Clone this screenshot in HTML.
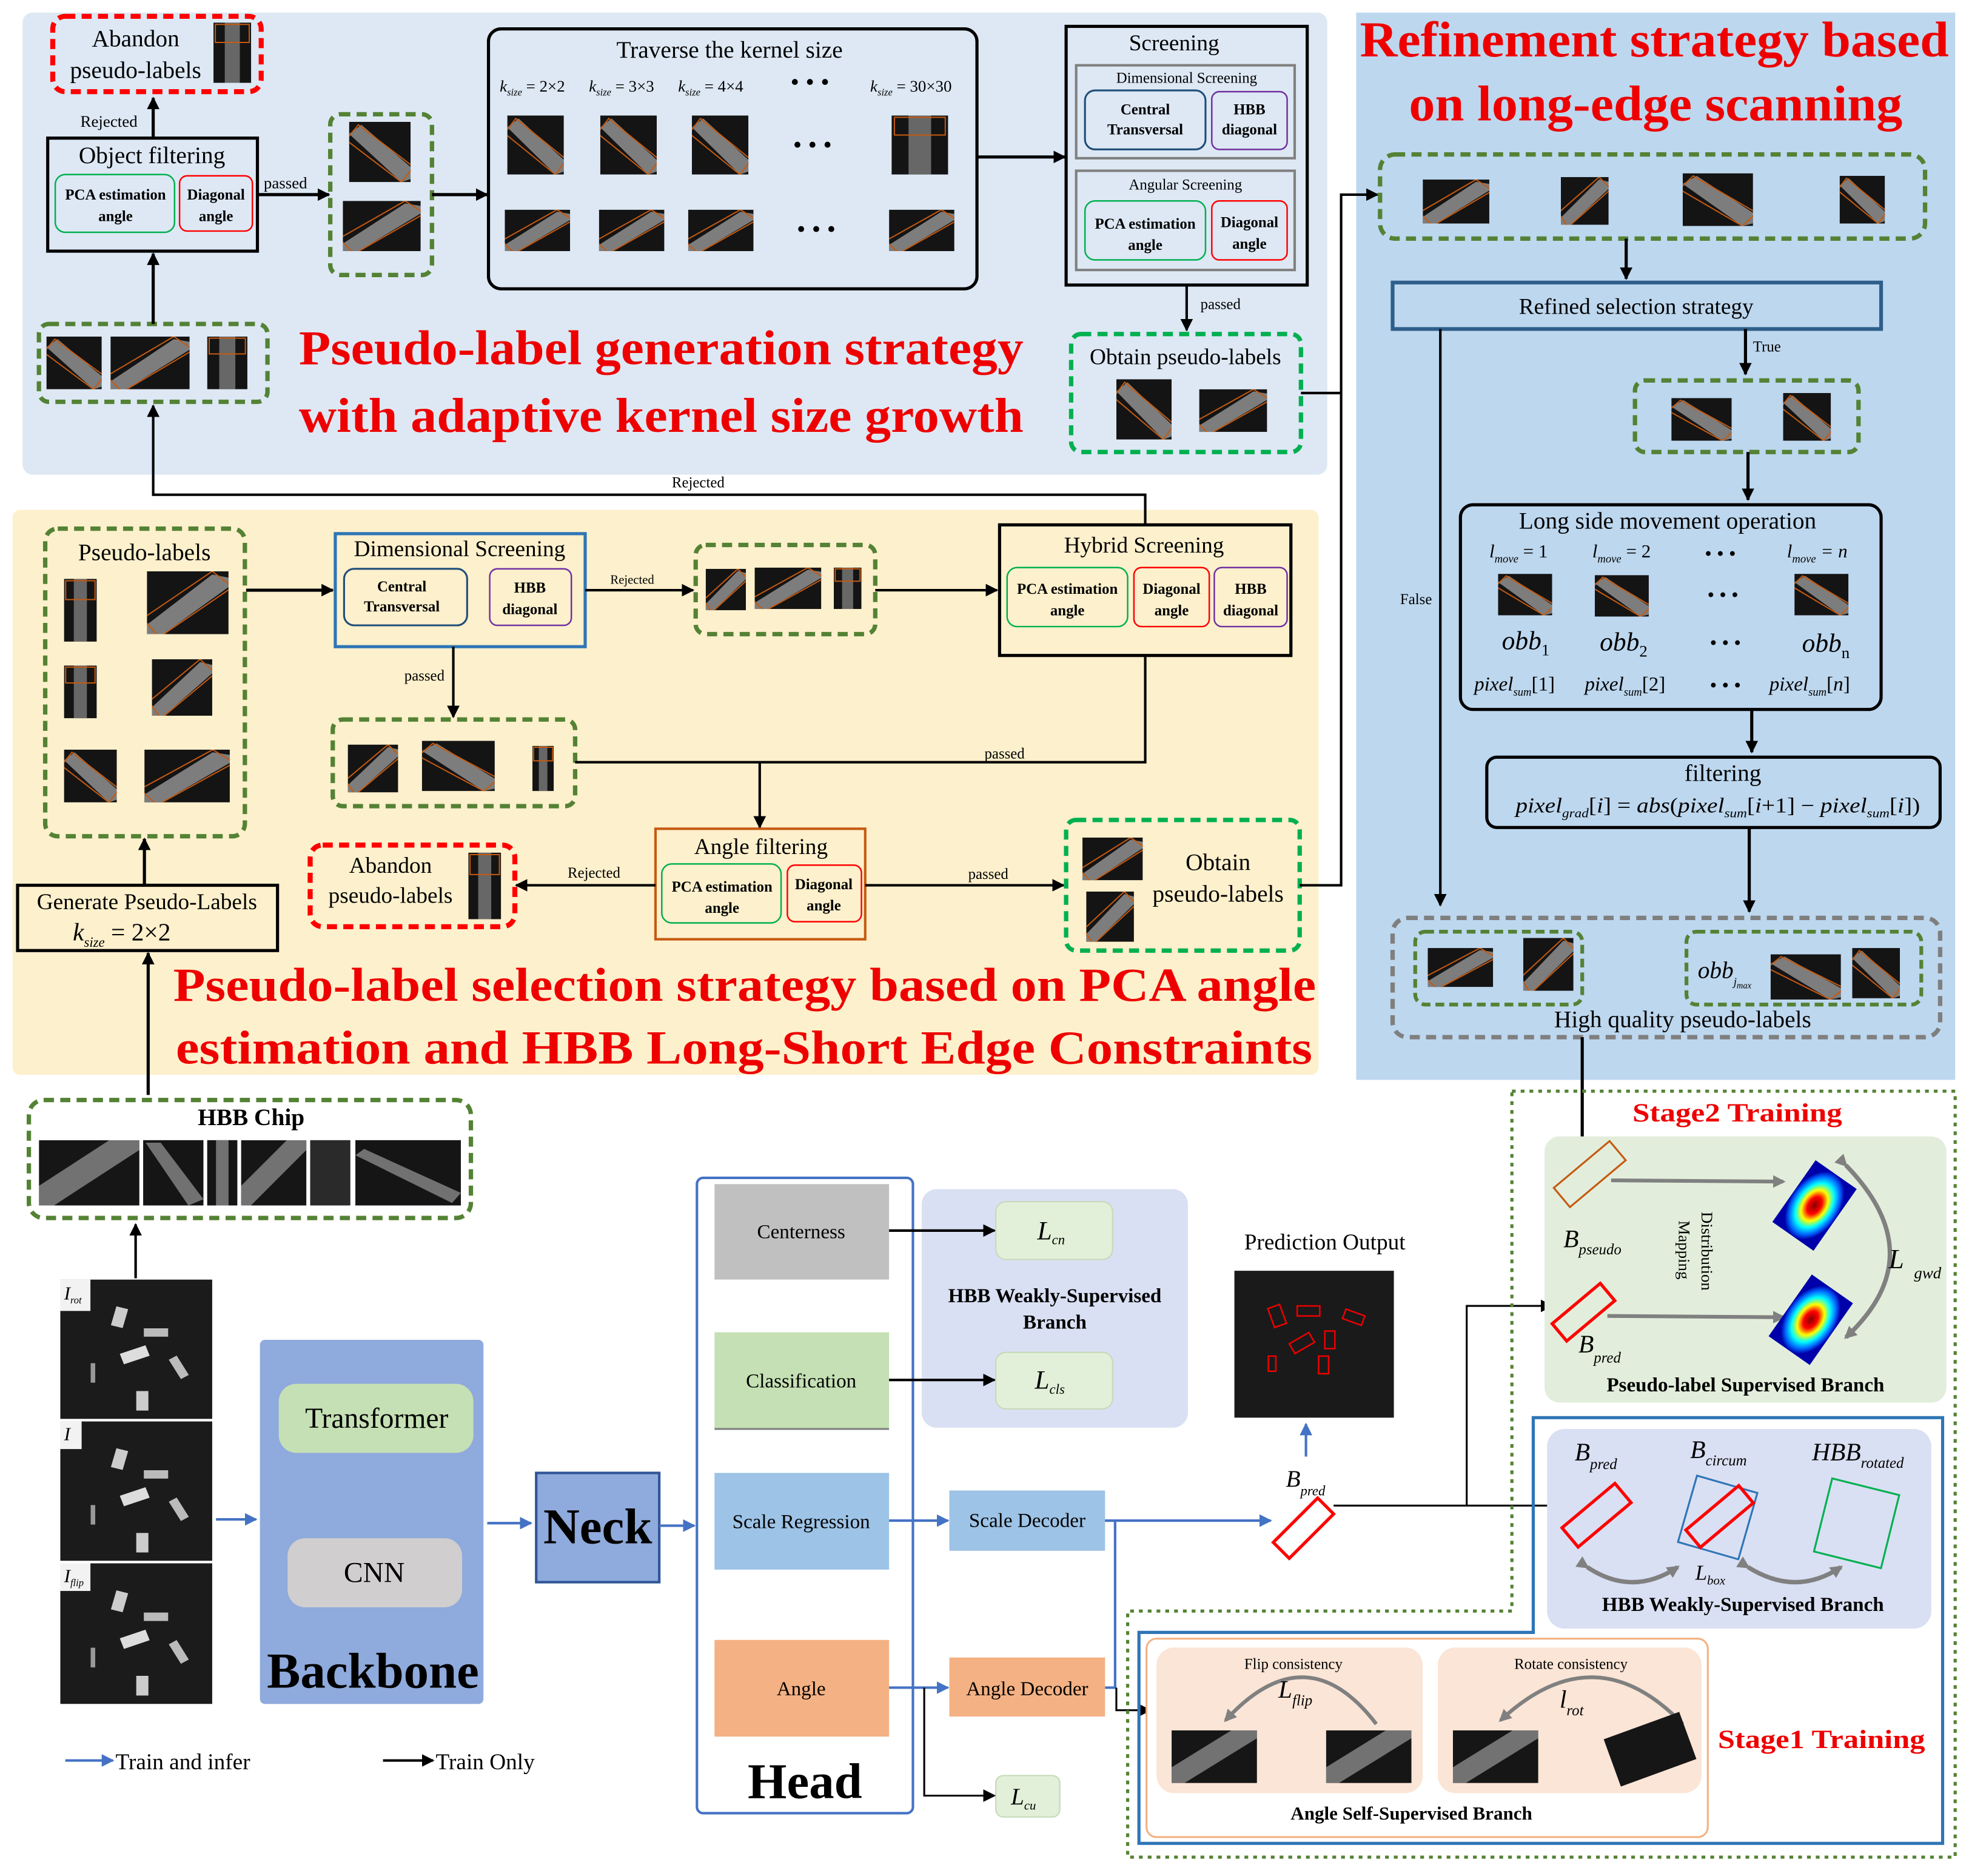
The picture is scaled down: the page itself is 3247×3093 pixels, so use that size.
<!DOCTYPE html>
<html><head><meta charset="utf-8"><style>
html,body{margin:0;padding:0;background:#fff;overflow:hidden}
svg{display:block}
text{font-family:"Liberation Serif",serif}
.b{font-weight:bold}
.r{fill:#e00;font-weight:bold}
</style></head><body>
<svg width="3247" height="3093" viewBox="0 0 1568 1494" preserveAspectRatio="none" xmlns="http://www.w3.org/2000/svg">
<defs>
<marker id="ak" markerWidth="10" markerHeight="10" refX="9" refY="5" orient="auto" markerUnits="userSpaceOnUse"><path d="M0,0L10,5L0,10z" fill="#000"/></marker>
<marker id="ab" markerWidth="10" markerHeight="10" refX="9" refY="5" orient="auto" markerUnits="userSpaceOnUse"><path d="M0,0L10,5L0,10z" fill="#4472c4"/></marker>
<marker id="ag" markerWidth="10" markerHeight="10" refX="8" refY="5" orient="auto" markerUnits="userSpaceOnUse"><path d="M0,0L10,5L0,10z" fill="#808080"/></marker>
<symbol id="i1" viewBox="0 0 100 100" preserveAspectRatio="none"><rect width="100" height="100" fill="#141414"/><polygon points="0,20 20,5 100,75 100,95 85,100" fill="#a0a0a0" opacity=".75"/><polygon points="-5,30 15,5 105,75 85,100" fill="none" stroke="#c55a11" stroke-width="2" vector-effect="non-scaling-stroke"/></symbol>
<symbol id="i2" viewBox="0 0 100 100" preserveAspectRatio="none"><rect width="100" height="100" fill="#141414"/><polygon points="0,85 80,5 100,10 100,25 20,100 0,100" fill="#a0a0a0" opacity=".75"/><polygon points="-5,75 80,0 105,25 15,105" fill="none" stroke="#c55a11" stroke-width="2" vector-effect="non-scaling-stroke"/></symbol>
<symbol id="i3" viewBox="0 0 100 100" preserveAspectRatio="none"><rect width="100" height="100" fill="#141414"/><rect x="30" y="0" width="40" height="100" fill="#8a8a8a" opacity=".7"/><rect x="5" y="3" width="90" height="30" fill="none" stroke="#c55a11" stroke-width="2" vector-effect="non-scaling-stroke"/></symbol>
<symbol id="i0" viewBox="0 0 100 100" preserveAspectRatio="none"><rect width="100" height="100" fill="#161616"/><polygon points="0,70 70,0 100,0 100,15 15,100 0,100" fill="#9a9a9a" opacity=".7"/></symbol>
<symbol id="sc" viewBox="0 0 100 100" preserveAspectRatio="none"><rect width="100" height="100" fill="#1b1b1b"/><rect x="35" y="20" width="8" height="14" fill="#ccc" transform="rotate(15 39 27)"/><rect x="55" y="35" width="16" height="6" fill="#bbb"/><rect x="40" y="50" width="18" height="8" fill="#ddd" transform="rotate(-20 49 54)"/><rect x="75" y="55" width="6" height="16" fill="#bbb" transform="rotate(-30 78 63)"/><rect x="20" y="60" width="3" height="14" fill="#999"/><rect x="50" y="80" width="8" height="14" fill="#ccc"/></symbol>
<radialGradient id="hm"><stop offset="0" stop-color="#800"/><stop offset=".25" stop-color="#f00"/><stop offset=".45" stop-color="#ff0"/><stop offset=".65" stop-color="#0ff"/><stop offset=".85" stop-color="#06f"/><stop offset="1" stop-color="#00a"/></radialGradient>
</defs>

<rect x="18" y="10" width="1039" height="368" rx="8" fill="#dde8f4"/>
<rect x="1080" y="10" width="477" height="850" fill="#bdd7ee"/>
<rect x="10" y="406" width="1040" height="450" rx="6" fill="#fdf0cc"/>

<!-- TOP PANEL -->
<rect x="42" y="13" width="166" height="60" rx="10" fill="none" stroke="#f00" stroke-width="4" stroke-dasharray="8,5"/>
<text x="108" y="37" font-size="19" text-anchor="middle">Abandon</text>
<text x="108" y="62" font-size="19" text-anchor="middle">pseudo-labels</text>
<use href="#i3" x="170" y="18" width="30" height="48"/>
<line x1="122" y1="110" x2="122" y2="78" stroke="#000" stroke-width="2.5" marker-end="url(#ak)"/>
<text x="64" y="101" font-size="13">Rejected</text>
<rect x="38" y="110" width="167" height="90" fill="none" stroke="#000" stroke-width="2.5"/>
<text x="121" y="130" font-size="19" text-anchor="middle">Object filtering</text>
<rect x="44" y="139" width="95" height="46" rx="8" fill="none" stroke="#00b050" stroke-width="1.2"/>
<rect x="143" y="140" width="58" height="44" rx="6" fill="none" stroke="#f00" stroke-width="1.2"/>
<text x="92" y="159" font-size="12" class="b" text-anchor="middle">PCA estimation</text>
<text x="92" y="176" font-size="12" class="b" text-anchor="middle">angle</text>
<text x="172" y="159" font-size="12" class="b" text-anchor="middle">Diagonal</text>
<text x="172" y="176" font-size="12" class="b" text-anchor="middle">angle</text>
<line x1="205" y1="155" x2="262" y2="155" stroke="#000" stroke-width="2.5" marker-end="url(#ak)"/>
<text x="210" y="150" font-size="13">passed</text>
<rect x="263" y="91" width="81" height="128" rx="8" fill="none" stroke="#548235" stroke-width="3.5" stroke-dasharray="8,5"/>
<use href="#i1" x="278" y="97" width="49" height="48"/>
<use href="#i2" x="273" y="160" width="62" height="40"/>
<line x1="344" y1="155" x2="388" y2="155" stroke="#000" stroke-width="2.5" marker-end="url(#ak)"/>
<rect x="389" y="23" width="389" height="207" rx="10" fill="none" stroke="#000" stroke-width="2.5"/>
<text x="581" y="46" font-size="19" text-anchor="middle">Traverse the kernel size</text>
<g font-size="13" font-style="italic">
<text x="398" y="73">k<tspan font-size="8" dy="3">size</tspan><tspan dy="-3" font-style="normal"> = 2×2</tspan></text>
<text x="469" y="73">k<tspan font-size="8" dy="3">size</tspan><tspan dy="-3" font-style="normal"> = 3×3</tspan></text>
<text x="540" y="73">k<tspan font-size="8" dy="3">size</tspan><tspan dy="-3" font-style="normal"> = 4×4</tspan></text>
<text x="693" y="73">k<tspan font-size="8" dy="3">size</tspan><tspan dy="-3" font-style="normal"> = 30×30</tspan></text>
</g>
<text x="645" y="72" font-size="20" text-anchor="middle">• • •</text>
<use href="#i1" x="404" y="92" width="45" height="47"/>
<use href="#i1" x="478" y="92" width="45" height="47"/>
<use href="#i1" x="551" y="92" width="45" height="47"/>
<use href="#i3" x="710" y="92" width="45" height="47"/>
<text x="647" y="122" font-size="20" text-anchor="middle">• • •</text>
<use href="#i2" x="402" y="167" width="52" height="33"/>
<use href="#i2" x="477" y="167" width="52" height="33"/>
<use href="#i2" x="548" y="167" width="52" height="33"/>
<use href="#i2" x="708" y="167" width="52" height="33"/>
<text x="650" y="189" font-size="20" text-anchor="middle">• • •</text>
<line x1="778" y1="125" x2="848" y2="125" stroke="#000" stroke-width="2.5" marker-end="url(#ak)"/>
<rect x="849" y="21" width="192" height="206" fill="none" stroke="#000" stroke-width="2.5"/>
<text x="935" y="40" font-size="18" text-anchor="middle">Screening</text>
<rect x="857" y="52" width="174" height="74" fill="none" stroke="#808080" stroke-width="2"/>
<text x="945" y="66" font-size="12" text-anchor="middle">Dimensional Screening</text>
<rect x="864" y="72" width="96" height="47" rx="8" fill="none" stroke="#1f4e79" stroke-width="1.5"/>
<rect x="965" y="73" width="60" height="46" rx="6" fill="none" stroke="#7030a0" stroke-width="1.2"/>
<text x="912" y="91" font-size="12" class="b" text-anchor="middle">Central</text>
<text x="912" y="107" font-size="12" class="b" text-anchor="middle">Transversal</text>
<text x="995" y="91" font-size="12" class="b" text-anchor="middle">HBB</text>
<text x="995" y="107" font-size="12" class="b" text-anchor="middle">diagonal</text>
<rect x="857" y="136" width="174" height="79" fill="none" stroke="#808080" stroke-width="2"/>
<text x="944" y="151" font-size="12" text-anchor="middle">Angular Screening</text>
<rect x="864" y="160" width="96" height="47" rx="8" fill="none" stroke="#00b050" stroke-width="1.2"/>
<rect x="965" y="160" width="60" height="47" rx="6" fill="none" stroke="#f00" stroke-width="1.2"/>
<text x="912" y="182" font-size="12" class="b" text-anchor="middle">PCA estimation</text>
<text x="912" y="199" font-size="12" class="b" text-anchor="middle">angle</text>
<text x="995" y="181" font-size="12" class="b" text-anchor="middle">Diagonal</text>
<text x="995" y="198" font-size="12" class="b" text-anchor="middle">angle</text>
<line x1="945" y1="227" x2="945" y2="263" stroke="#000" stroke-width="2" marker-end="url(#ak)"/>
<text x="956" y="246" font-size="12">passed</text>
<rect x="853" y="266" width="183" height="94" rx="8" fill="none" stroke="#00b050" stroke-width="3.5" stroke-dasharray="8,5"/>
<text x="944" y="290" font-size="18" text-anchor="middle">Obtain pseudo-labels</text>
<use href="#i1" x="889" y="302" width="44" height="48"/>
<use href="#i2" x="955" y="310" width="54" height="34"/>
<rect x="31" y="258" width="182" height="62" rx="8" fill="none" stroke="#548235" stroke-width="3.5" stroke-dasharray="8,5"/>
<use href="#i1" x="37" y="268" width="44" height="42"/>
<use href="#i2" x="88" y="268" width="63" height="42"/>
<use href="#i3" x="165" y="268" width="32" height="42"/>
<line x1="122" y1="258" x2="122" y2="202" stroke="#000" stroke-width="2.5" marker-end="url(#ak)"/>
<text x="238" y="290" font-size="39" class="r" textLength="577" lengthAdjust="spacingAndGlyphs">Pseudo-label generation strategy</text>
<text x="238" y="344" font-size="39" class="r" textLength="577" lengthAdjust="spacingAndGlyphs">with adaptive kernel size growth</text>
<polyline points="912,418 912,394 122,394 122,323" fill="none" stroke="#000" stroke-width="2" marker-end="url(#ak)"/>
<text x="556" y="388" font-size="12" text-anchor="middle">Rejected</text>

<!-- YELLOW PANEL -->
<rect x="36" y="421" width="159" height="245" rx="10" fill="none" stroke="#548235" stroke-width="3.5" stroke-dasharray="8,5"/>
<text x="115" y="446" font-size="19" text-anchor="middle">Pseudo-labels</text>
<use href="#i3" x="51" y="461" width="26" height="50"/>
<use href="#i2" x="117" y="455" width="65" height="50"/>
<use href="#i3" x="51" y="530" width="26" height="42"/>
<use href="#i2" x="121" y="525" width="48" height="45"/>
<use href="#i1" x="51" y="597" width="42" height="42"/>
<use href="#i2" x="115" y="597" width="68" height="42"/>
<line x1="196" y1="470" x2="265" y2="470" stroke="#000" stroke-width="2.5" marker-end="url(#ak)"/>
<rect x="267" y="425" width="199" height="90" fill="none" stroke="#2e75b6" stroke-width="2.5"/>
<text x="366" y="443" font-size="18" text-anchor="middle">Dimensional Screening</text>
<rect x="274" y="453" width="98" height="45" rx="8" fill="none" stroke="#1f4e79" stroke-width="1.5"/>
<rect x="390" y="453" width="65" height="45" rx="6" fill="none" stroke="#7030a0" stroke-width="1.2"/>
<text x="320" y="471" font-size="12" class="b" text-anchor="middle">Central</text>
<text x="320" y="487" font-size="12" class="b" text-anchor="middle">Transversal</text>
<text x="422" y="472" font-size="12" class="b" text-anchor="middle">HBB</text>
<text x="422" y="489" font-size="12" class="b" text-anchor="middle">diagonal</text>
<line x1="466" y1="470" x2="552" y2="470" stroke="#000" stroke-width="2" marker-end="url(#ak)"/>
<text x="486" y="465" font-size="10">Rejected</text>
<rect x="554" y="434" width="143" height="71" rx="8" fill="none" stroke="#548235" stroke-width="3.5" stroke-dasharray="8,5"/>
<use href="#i2" x="562" y="453" width="32" height="33"/>
<use href="#i2" x="601" y="452" width="53" height="33"/>
<use href="#i3" x="664" y="452" width="22" height="33"/>
<line x1="697" y1="470" x2="794" y2="470" stroke="#000" stroke-width="2" marker-end="url(#ak)"/>
<rect x="796" y="418" width="232" height="104" fill="none" stroke="#000" stroke-width="2.5"/>
<text x="911" y="440" font-size="18" text-anchor="middle">Hybrid Screening</text>
<rect x="802" y="452" width="96" height="47" rx="8" fill="none" stroke="#00b050" stroke-width="1.2"/>
<rect x="903" y="452" width="60" height="47" rx="6" fill="none" stroke="#f00" stroke-width="1.2"/>
<rect x="967" y="452" width="58" height="47" rx="6" fill="none" stroke="#7030a0" stroke-width="1.2"/>
<text x="850" y="473" font-size="12" class="b" text-anchor="middle">PCA estimation</text>
<text x="850" y="490" font-size="12" class="b" text-anchor="middle">angle</text>
<text x="933" y="473" font-size="12" class="b" text-anchor="middle">Diagonal</text>
<text x="933" y="490" font-size="12" class="b" text-anchor="middle">angle</text>
<text x="996" y="473" font-size="12" class="b" text-anchor="middle">HBB</text>
<text x="996" y="490" font-size="12" class="b" text-anchor="middle">diagonal</text>
<line x1="361" y1="515" x2="361" y2="571" stroke="#000" stroke-width="2" marker-end="url(#ak)"/>
<text x="322" y="542" font-size="12">passed</text>
<rect x="265" y="573" width="193" height="69" rx="8" fill="none" stroke="#548235" stroke-width="3.5" stroke-dasharray="8,5"/>
<use href="#i2" x="277" y="593" width="40" height="38"/>
<use href="#i1" x="336" y="590" width="58" height="40"/>
<use href="#i3" x="424" y="594" width="17" height="36"/>
<polyline points="458,607 912,607 912,522" fill="none" stroke="#000" stroke-width="2"/>
<text x="800" y="604" font-size="12" text-anchor="middle">passed</text>
<line x1="605" y1="607" x2="605" y2="659" stroke="#000" stroke-width="2" marker-end="url(#ak)"/>
<rect x="522" y="660" width="167" height="88" fill="none" stroke="#c55a11" stroke-width="2"/>
<text x="606" y="680" font-size="18" text-anchor="middle">Angle filtering</text>
<rect x="527" y="688" width="95" height="47" rx="8" fill="none" stroke="#00b050" stroke-width="1.2"/>
<rect x="627" y="689" width="59" height="45" rx="6" fill="none" stroke="#f00" stroke-width="1.2"/>
<text x="575" y="710" font-size="12" class="b" text-anchor="middle">PCA estimation</text>
<text x="575" y="727" font-size="12" class="b" text-anchor="middle">angle</text>
<text x="656" y="708" font-size="12" class="b" text-anchor="middle">Diagonal</text>
<text x="656" y="725" font-size="12" class="b" text-anchor="middle">angle</text>
<line x1="522" y1="705" x2="411" y2="705" stroke="#000" stroke-width="2" marker-end="url(#ak)"/>
<text x="473" y="699" font-size="12" text-anchor="middle">Rejected</text>
<rect x="247" y="673" width="163" height="65" rx="10" fill="none" stroke="#f00" stroke-width="4" stroke-dasharray="8,5"/>
<text x="311" y="695" font-size="18" text-anchor="middle">Abandon</text>
<text x="311" y="719" font-size="18" text-anchor="middle">pseudo-labels</text>
<use href="#i3" x="373" y="679" width="26" height="53"/>
<line x1="689" y1="705" x2="847" y2="705" stroke="#000" stroke-width="2" marker-end="url(#ak)"/>
<text x="787" y="700" font-size="12" text-anchor="middle">passed</text>
<rect x="849" y="653" width="186" height="104" rx="8" fill="none" stroke="#00b050" stroke-width="3.5" stroke-dasharray="8,5"/>
<use href="#i2" x="862" y="667" width="48" height="34"/>
<use href="#i2" x="865" y="710" width="38" height="40"/>
<text x="970" y="693" font-size="19" text-anchor="middle">Obtain</text>
<text x="970" y="718" font-size="19" text-anchor="middle">pseudo-labels</text>
<polyline points="1035,705 1068,705 1068,155 1097,155" fill="none" stroke="#000" stroke-width="2" marker-end="url(#ak)"/>
<line x1="1036" y1="313" x2="1068" y2="313" stroke="#000" stroke-width="2"/>
<rect x="14" y="705" width="207" height="52" fill="none" stroke="#000" stroke-width="2.5"/>
<text x="117" y="724" font-size="18" text-anchor="middle">Generate Pseudo-Labels</text>
<text x="58" y="749" font-size="20" font-style="italic">k<tspan font-size="11" dy="5">size</tspan><tspan dy="-5" font-style="normal"> = 2×2</tspan></text>
<line x1="115" y1="705" x2="115" y2="668" stroke="#000" stroke-width="2.5" marker-end="url(#ak)"/>
<text x="138" y="797" font-size="38" class="r" textLength="910" lengthAdjust="spacingAndGlyphs">Pseudo-label selection strategy based on PCA angle</text>
<text x="140" y="847" font-size="38" class="r" textLength="905" lengthAdjust="spacingAndGlyphs">estimation and HBB  Long-Short Edge Constraints</text>
<line x1="118" y1="872" x2="118" y2="759" stroke="#000" stroke-width="2.5" marker-end="url(#ak)"/>

<!-- RIGHT PANEL -->
<text x="1083" y="45" font-size="40" class="r" textLength="469" lengthAdjust="spacingAndGlyphs">Refinement strategy based</text>
<text x="1122" y="96" font-size="40" class="r" textLength="393" lengthAdjust="spacingAndGlyphs">on long-edge scanning</text>
<rect x="1099" y="123" width="434" height="67" rx="12" fill="none" stroke="#548235" stroke-width="3.5" stroke-dasharray="8,5"/>
<use href="#i2" x="1133" y="143" width="53" height="35"/>
<use href="#i2" x="1243" y="141" width="38" height="38"/>
<use href="#i1" x="1340" y="138" width="56" height="42"/>
<use href="#i1" x="1465" y="140" width="36" height="38"/>
<line x1="1295" y1="190" x2="1295" y2="222" stroke="#000" stroke-width="2.5" marker-end="url(#ak)"/>
<rect x="1109" y="225" width="389" height="37" fill="none" stroke="#2e5f8a" stroke-width="3"/>
<text x="1303" y="250" font-size="18" text-anchor="middle">Refined selection strategy</text>
<line x1="1390" y1="262" x2="1390" y2="298" stroke="#000" stroke-width="2.5" marker-end="url(#ak)"/>
<text x="1396" y="280" font-size="12">True</text>
<rect x="1302" y="303" width="178" height="57" rx="8" fill="none" stroke="#548235" stroke-width="3.5" stroke-dasharray="8,5"/>
<use href="#i1" x="1331" y="317" width="48" height="34"/>
<use href="#i1" x="1420" y="313" width="38" height="38"/>
<line x1="1392" y1="360" x2="1392" y2="398" stroke="#000" stroke-width="2.5" marker-end="url(#ak)"/>
<rect x="1163" y="402" width="335" height="163" rx="10" fill="none" stroke="#000" stroke-width="2.5"/>
<text x="1328" y="421" font-size="19" text-anchor="middle">Long side movement operation</text>
<g font-size="15" font-style="italic">
<text x="1186" y="444">l<tspan font-size="9" dy="4">move</tspan><tspan dy="-4" font-style="normal"> = 1</tspan></text>
<text x="1268" y="444">l<tspan font-size="9" dy="4">move</tspan><tspan dy="-4" font-style="normal"> = 2</tspan></text>
<text x="1423" y="444">l<tspan font-size="9" dy="4">move</tspan><tspan dy="-4"> = n</tspan></text>
</g>
<text x="1370" y="446" font-size="16" text-anchor="middle">• • •</text>
<use href="#i1" x="1193" y="457" width="43" height="33"/>
<use href="#i1" x="1270" y="458" width="43" height="33"/>
<use href="#i1" x="1429" y="457" width="43" height="33"/>
<text x="1372" y="479" font-size="16" text-anchor="middle">• • •</text>
<g font-size="21" font-style="italic">
<text x="1196" y="517">obb<tspan font-size="13" dy="5" font-style="normal">1</tspan></text>
<text x="1274" y="518">obb<tspan font-size="13" dy="5" font-style="normal">2</tspan></text>
<text x="1435" y="519">obb<tspan font-size="13" dy="5" font-style="normal">n</tspan></text>
</g>
<text x="1374" y="517" font-size="16" text-anchor="middle">• • •</text>
<g font-size="16" font-style="italic">
<text x="1174" y="550">pixel<tspan font-size="9" dy="4">sum</tspan><tspan dy="-4" font-style="normal">[1]</tspan></text>
<text x="1262" y="550">pixel<tspan font-size="9" dy="4">sum</tspan><tspan dy="-4" font-style="normal">[2]</tspan></text>
<text x="1409" y="550">pixel<tspan font-size="9" dy="4">sum</tspan><tspan dy="-4" font-style="normal">[</tspan>n<tspan font-style="normal">]</tspan></text>
</g>
<text x="1374" y="551" font-size="16" text-anchor="middle">• • •</text>
<line x1="1395" y1="565" x2="1395" y2="599" stroke="#000" stroke-width="2.5" marker-end="url(#ak)"/>
<rect x="1184" y="603" width="361" height="56" rx="8" fill="none" stroke="#000" stroke-width="2.5"/>
<text x="1372" y="622" font-size="19" text-anchor="middle">filtering</text>
<text x="1207" y="647" font-size="17" font-style="italic" textLength="322" lengthAdjust="spacingAndGlyphs">pixel<tspan font-size="10" dy="4">grad</tspan><tspan dy="-4" font-style="normal">[</tspan>i<tspan font-style="normal">] = </tspan>abs<tspan font-style="normal">(</tspan>pixel<tspan font-size="10" dy="4">sum</tspan><tspan dy="-4" font-style="normal">[</tspan>i<tspan font-style="normal">+1] − </tspan>pixel<tspan font-size="10" dy="4">sum</tspan><tspan dy="-4" font-style="normal">[</tspan>i<tspan font-style="normal">])</tspan></text>
<line x1="1393" y1="659" x2="1393" y2="726" stroke="#000" stroke-width="2.5" marker-end="url(#ak)"/>
<line x1="1147" y1="262" x2="1147" y2="721" stroke="#000" stroke-width="2" marker-end="url(#ak)"/>
<text x="1115" y="481" font-size="12">False</text>
<rect x="1109" y="731" width="436" height="95" rx="12" fill="none" stroke="#7f7f7f" stroke-width="3.5" stroke-dasharray="8,5"/>
<rect x="1127" y="742" width="133" height="58" rx="8" fill="none" stroke="#548235" stroke-width="3" stroke-dasharray="7,4"/>
<rect x="1343" y="742" width="187" height="58" rx="8" fill="none" stroke="#548235" stroke-width="3" stroke-dasharray="7,4"/>
<use href="#i2" x="1137" y="755" width="52" height="31"/>
<use href="#i2" x="1213" y="747" width="40" height="42"/>
<use href="#i1" x="1410" y="760" width="56" height="36"/>
<use href="#i1" x="1475" y="755" width="38" height="40"/>
<text x="1352" y="779" font-size="19" font-style="italic">obb<tspan font-size="9" dy="6">j</tspan><tspan font-size="7" dy="2">max</tspan></text>
<text x="1340" y="818" font-size="19" text-anchor="middle">High quality pseudo-labels</text>
<polyline points="1260,826 1260,920" fill="none" stroke="#000" stroke-width="2.5" marker-end="url(#ak)"/>

<!-- BOTTOM -->
<rect x="23" y="876" width="352" height="94" rx="12" fill="none" stroke="#548235" stroke-width="3.5" stroke-dasharray="8,5"/>
<text x="200" y="896" font-size="19" class="b" text-anchor="middle">HBB Chip</text>
<use href="#i0" x="31" y="908" width="80" height="52"/>
<rect x="114" y="908" width="48" height="52" fill="#151515"/><polygon points="116,910 128,910 162,955 150,960" fill="#999" opacity=".7"/>
<rect x="165" y="908" width="24" height="52" fill="#151515"/><rect x="172" y="908" width="10" height="52" fill="#999" opacity=".7"/>
<use href="#i0" x="192" y="908" width="52" height="52"/>
<rect x="247" y="908" width="32" height="52" fill="#2a2a2a"/>
<rect x="283" y="908" width="84" height="52" fill="#151515"/><polygon points="283,920 290,915 367,950 360,958" fill="#999" opacity=".7"/>
<line x1="108" y1="1018" x2="108" y2="975" stroke="#000" stroke-width="2" marker-end="url(#ak)"/>
<use href="#sc" x="48" y="1019" width="121" height="111"/>
<use href="#sc" x="48" y="1132" width="121" height="111"/>
<use href="#sc" x="48" y="1245" width="121" height="112"/>
<rect x="48" y="1019" width="24" height="25" fill="#f2f2f2"/>
<rect x="48" y="1132" width="17" height="22" fill="#f2f2f2"/>
<rect x="48" y="1245" width="24" height="22" fill="#f2f2f2"/>
<text x="51" y="1035" font-size="15" font-style="italic">I<tspan font-size="8" dy="3">rot</tspan></text>
<text x="51" y="1147" font-size="15" font-style="italic">I</text>
<text x="51" y="1260" font-size="15" font-style="italic">I<tspan font-size="8" dy="3">flip</tspan></text>
<line x1="172" y1="1210" x2="204" y2="1210" stroke="#4472c4" stroke-width="2" marker-end="url(#ab)"/>
<rect x="207" y="1067" width="178" height="290" rx="4" fill="#8faadc"/>
<rect x="222" y="1102" width="155" height="55" rx="14" fill="#c5e0b4"/>
<text x="300" y="1137" font-size="23" text-anchor="middle">Transformer</text>
<rect x="229" y="1225" width="139" height="55" rx="14" fill="#d0cece"/>
<text x="298" y="1260" font-size="23" text-anchor="middle">CNN</text>
<text x="297" y="1344" font-size="40" class="b" text-anchor="middle">Backbone</text>
<line x1="388" y1="1213" x2="423" y2="1213" stroke="#4472c4" stroke-width="2" marker-end="url(#ab)"/>
<rect x="427" y="1173" width="98" height="87" fill="#8faadc" stroke="#2f5597" stroke-width="2"/>
<text x="476" y="1229" font-size="40" class="b" text-anchor="middle">Neck</text>
<line x1="525" y1="1215" x2="553" y2="1215" stroke="#4472c4" stroke-width="2" marker-end="url(#ab)"/>
<rect x="555" y="938" width="172" height="506" rx="5" fill="none" stroke="#4472c4" stroke-width="2"/>
<rect x="569" y="943" width="139" height="76" fill="#c0c0c0"/>
<text x="638" y="986" font-size="16" text-anchor="middle">Centerness</text>
<rect x="569" y="1061" width="139" height="77" fill="#c5e0b4"/>
<line x1="569" y1="1138" x2="708" y2="1138" stroke="#7f7f7f" stroke-width="1.5"/>
<text x="638" y="1105" font-size="16" text-anchor="middle">Classification</text>
<rect x="569" y="1173" width="139" height="77" fill="#9dc3e6"/>
<text x="638" y="1217" font-size="16" text-anchor="middle">Scale Regression</text>
<rect x="569" y="1306" width="139" height="77" fill="#f4b183"/>
<text x="638" y="1350" font-size="16" text-anchor="middle">Angle</text>
<text x="641" y="1432" font-size="40" class="b" text-anchor="middle">Head</text>
<rect x="734" y="947" width="212" height="190" rx="12" fill="#dae0f3"/>
<rect x="793" y="957" width="93" height="46" rx="8" fill="#e2f0d9" stroke="#c5d9b8"/>
<text x="826" y="987" font-size="21" font-style="italic">L<tspan font-size="11" dy="4">cn</tspan></text>
<rect x="793" y="1077" width="93" height="45" rx="8" fill="#e2f0d9" stroke="#c5d9b8"/>
<text x="824" y="1106" font-size="21" font-style="italic">L<tspan font-size="11" dy="4">cls</tspan></text>
<text x="840" y="1037" font-size="16" class="b" text-anchor="middle">HBB Weakly-Supervised</text>
<text x="840" y="1058" font-size="16" class="b" text-anchor="middle">Branch</text>
<line x1="708" y1="980" x2="792" y2="980" stroke="#000" stroke-width="2" marker-end="url(#ak)"/>
<line x1="708" y1="1099" x2="792" y2="1099" stroke="#000" stroke-width="2" marker-end="url(#ak)"/>
<rect x="756" y="1187" width="124" height="48" fill="#9dc3e6"/>
<text x="818" y="1216" font-size="16" text-anchor="middle">Scale Decoder</text>
<line x1="708" y1="1211" x2="755" y2="1211" stroke="#4472c4" stroke-width="2" marker-end="url(#ab)"/>
<rect x="756" y="1320" width="124" height="47" fill="#f4b183"/>
<text x="818" y="1350" font-size="16" text-anchor="middle">Angle Decoder</text>
<line x1="708" y1="1344" x2="755" y2="1344" stroke="#4472c4" stroke-width="2" marker-end="url(#ab)"/>
<rect x="793" y="1414" width="51" height="33" rx="6" fill="#e2f0d9" stroke="#c5d9b8"/>
<text x="805" y="1437" font-size="19" font-style="italic">L<tspan font-size="10" dy="4">cu</tspan></text>
<polyline points="736,1344 736,1430 792,1430" fill="none" stroke="#000" stroke-width="1.5" marker-end="url(#ak)"/>
<text x="1055" y="995" font-size="18" text-anchor="middle">Prediction Output</text>
<rect x="983" y="1012" width="127" height="117" fill="#1a1a1a"/>
<g fill="none" stroke="#e00" stroke-width="1.2"><rect x="1012" y="1040" width="10" height="16" transform="rotate(-20 1017 1048)"/><rect x="1033" y="1040" width="18" height="8"/><rect x="1070" y="1045" width="16" height="8" transform="rotate(20 1078 1049)"/><rect x="1028" y="1065" width="18" height="9" transform="rotate(-30 1037 1070)"/><rect x="1055" y="1060" width="8" height="14"/><rect x="1010" y="1080" width="6" height="12"/><rect x="1050" y="1080" width="8" height="14"/></g>
<line x1="1040" y1="1160" x2="1040" y2="1134" stroke="#4472c4" stroke-width="2" marker-end="url(#ab)"/>
<text x="1024" y="1184" font-size="19" font-style="italic">B<tspan font-size="11" dy="7">pred</tspan></text>
<rect x="1013" y="1208" width="50" height="18" fill="none" stroke="#f00" stroke-width="2.5" transform="rotate(-45 1038 1217)"/>
<polyline points="880,1211 1012,1211" fill="none" stroke="#4472c4" stroke-width="2" marker-end="url(#ab)"/>
<polyline points="1062,1199 1168,1199 1168,1040 1236,1040" fill="none" stroke="#000" stroke-width="1.5" marker-end="url(#ak)"/>
<line x1="1168" y1="1199" x2="1246" y2="1199" stroke="#000" stroke-width="1.5" marker-end="url(#ak)"/>
<polyline points="880,1211 888,1211 888,1344 880,1344" fill="none" stroke="#4472c4" stroke-width="2"/>
<polyline points="889,1344 889,1362 916,1362" fill="none" stroke="#000" stroke-width="1.5" marker-end="url(#ak)"/>

<polygon points="1204,869 1557,869 1557,1479 898,1479 898,1283 1204,1283" fill="none" stroke="#548235" stroke-width="2.5" stroke-dasharray="3,4"/>
<text x="1300" y="893" font-size="21" class="r" textLength="167" lengthAdjust="spacingAndGlyphs">Stage2 Training</text>
<rect x="1230" y="905" width="320" height="212" rx="12" fill="#e2eedb"/>
<rect x="1237" y="925" width="58" height="20" fill="none" stroke="#c55a11" stroke-width="1.5" transform="rotate(-40 1266 935)"/>
<text x="1245" y="993" font-size="20" font-style="italic">B<tspan font-size="12" dy="6">pseudo</tspan></text>
<rect x="1236" y="1036" width="50" height="18" fill="none" stroke="#f00" stroke-width="2.5" transform="rotate(-40 1261 1045)"/>
<text x="1257" y="1077" font-size="20" font-style="italic">B<tspan font-size="12" dy="8">pred</tspan></text>
<line x1="1283" y1="940" x2="1420" y2="941" stroke="#808080" stroke-width="3" marker-end="url(#ag)"/>
<line x1="1280" y1="1048" x2="1420" y2="1049" stroke="#808080" stroke-width="3" marker-end="url(#ag)"/>
<rect x="1425" y="930" width="40" height="60" fill="url(#hm)" transform="rotate(35 1445 960)"/>
<rect x="1422" y="1021" width="40" height="60" fill="url(#hm)" transform="rotate(35 1442 1051)"/>
<text transform="translate(1355,965) rotate(90)" font-size="13">Distribution</text>
<text transform="translate(1337,972) rotate(90)" font-size="13">Mapping</text>
<path d="M1470,928 Q1540,1000 1470,1065" fill="none" stroke="#808080" stroke-width="3.5" marker-start="url(#ag)" marker-end="url(#ag)"/>
<text x="1504" y="1010" font-size="22" font-style="italic">L<tspan font-size="13" dy="8" dx="8">gwd</tspan></text>
<text x="1390" y="1108" font-size="16" class="b" text-anchor="middle">Pseudo-label Supervised Branch</text>
<polygon points="1221,1129 1547,1129 1547,1468 907,1468 907,1300 1221,1300" fill="none" stroke="#2e75b6" stroke-width="2.5"/>
<rect x="1232" y="1138" width="306" height="159" rx="14" fill="#dae0f3"/>
<text x="1254" y="1163" font-size="20" font-style="italic">B<tspan font-size="12" dy="7">pred</tspan></text>
<text x="1346" y="1161" font-size="20" font-style="italic">B<tspan font-size="12" dy="6">circum</tspan></text>
<text x="1443" y="1163" font-size="20" font-style="italic">HBB<tspan font-size="12" dy="6">rotated</tspan></text>
<rect x="1244" y="1197" width="55" height="20" fill="none" stroke="#f00" stroke-width="2.5" transform="rotate(-40 1271 1207)"/>
<rect x="1343" y="1181" width="50" height="55" fill="none" stroke="#2e75b6" stroke-width="1.5" transform="rotate(16 1368 1208)"/>
<rect x="1342" y="1199" width="55" height="18" fill="none" stroke="#f00" stroke-width="2.5" transform="rotate(-40 1369 1208)"/>
<rect x="1451" y="1183" width="55" height="60" fill="none" stroke="#00b050" stroke-width="1.5" transform="rotate(14 1478 1213)"/>
<path d="M1264,1248 Q1300,1272 1336,1248" fill="none" stroke="#808080" stroke-width="3.5" marker-start="url(#ag)" marker-end="url(#ag)"/>
<path d="M1392,1248 Q1430,1272 1466,1248" fill="none" stroke="#808080" stroke-width="3.5" marker-start="url(#ag)" marker-end="url(#ag)"/>
<text x="1350" y="1258" font-size="17" font-style="italic">L<tspan font-size="10" dy="4">box</tspan></text>
<text x="1388" y="1283" font-size="16" class="b" text-anchor="middle">HBB Weakly-Supervised Branch</text>
<rect x="913" y="1305" width="447" height="158" rx="8" fill="#fff" stroke="#f4b183" stroke-width="1.5"/>
<rect x="921" y="1312" width="212" height="116" rx="14" fill="#fbe5d6"/>
<rect x="1145" y="1312" width="210" height="116" rx="14" fill="#fbe5d6"/>
<text x="1030" y="1329" font-size="12" text-anchor="middle">Flip consistency</text>
<text x="1251" y="1329" font-size="12" text-anchor="middle">Rotate consistency</text>
<path d="M1096,1373 Q1040,1300 976,1370" fill="none" stroke="#808080" stroke-width="3" marker-end="url(#ag)"/>
<path d="M1340,1373 Q1270,1300 1195,1370" fill="none" stroke="#808080" stroke-width="3" marker-end="url(#ag)"/>
<text x="1018" y="1352" font-size="20" font-style="italic">L<tspan font-size="12" dy="6">flip</tspan></text>
<text x="1242" y="1360" font-size="20" font-style="italic">l<tspan font-size="12" dy="6">rot</tspan></text>
<use href="#i0" x="933" y="1378" width="68" height="42"/>
<use href="#i0" x="1056" y="1378" width="68" height="42"/>
<use href="#i0" x="1157" y="1378" width="68" height="42"/>
<rect x="1282" y="1373" width="64" height="40" fill="#161616" transform="rotate(-20 1314 1393)"/>
<text x="1124" y="1449" font-size="15" class="b" text-anchor="middle">Angle Self-Supervised Branch</text>
<text x="1368" y="1392" font-size="21" class="r" textLength="165" lengthAdjust="spacingAndGlyphs">Stage1 Training</text>

<line x1="52" y1="1402" x2="90" y2="1402" stroke="#4472c4" stroke-width="2" marker-end="url(#ab)"/>
<text x="92" y="1409" font-size="18">Train and infer</text>
<line x1="305" y1="1402" x2="345" y2="1402" stroke="#000" stroke-width="2" marker-end="url(#ak)"/>
<text x="347" y="1409" font-size="18">Train Only</text>
</svg>
</body></html>
